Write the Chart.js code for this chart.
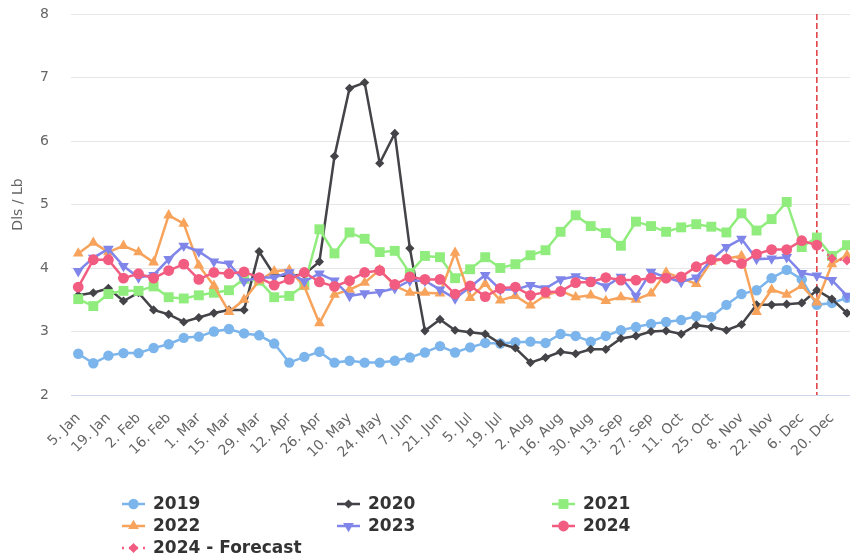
<!DOCTYPE html>
<html>
<head>
<meta charset="utf-8">
<script src="https://cdn.jsdelivr.net/npm/chart.js@4.4.1/dist/chart.umd.min.js"></script>
<style>
  html, body { margin: 0; padding: 0; background: #fff; }
  #wrap { width: 850px; height: 558px; position: relative; }
</style>
</head>
<body>
<div id="wrap"><canvas id="chart"></canvas></div>
<script>
// ---------------------------------------------
// Weekly price, Dls / Lb
// ---------------------------------------------
const weeks = [
  "5. Jan", "12. Jan", "19. Jan", "26. Jan", "2. Feb", "9. Feb", "16. Feb", "23. Feb",
  "1. Mar", "8. Mar", "15. Mar", "22. Mar", "29. Mar", "5. Apr", "12. Apr", "19. Apr",
  "26. Apr", "3. May", "10. May", "17. May", "24. May", "31. May", "7. Jun", "14. Jun",
  "21. Jun", "28. Jun", "5. Jul", "12. Jul", "19. Jul", "26. Jul", "2. Aug", "9. Aug",
  "16. Aug", "23. Aug", "30. Aug", "6. Sep", "13. Sep", "20. Sep", "27. Sep", "4. Oct",
  "11. Oct", "18. Oct", "25. Oct", "1. Nov", "8. Nov", "15. Nov", "22. Nov", "29. Nov",
  "6. Dec", "13. Dec", "20. Dec", "27. Dec"
];

const y2019 = [2.65, 2.50, 2.62, 2.66, 2.66, 2.74, 2.80, 2.90, 2.92, 3.00, 3.04, 2.97, 2.94,
  2.81, 2.51, 2.60, 2.68, 2.51, 2.54, 2.51, 2.51, 2.54, 2.59, 2.67, 2.77, 2.67, 2.75, 2.82,
  2.81, 2.83, 2.84, 2.82, 2.96, 2.93, 2.84, 2.93, 3.02, 3.07, 3.12, 3.15, 3.18, 3.24, 3.23,
  3.42, 3.59, 3.65, 3.84, 3.97, 3.82, 3.42, 3.45, 3.53];

const y2020 = [3.57, 3.61, 3.68, 3.48, 3.61, 3.34, 3.27, 3.15, 3.22, 3.29, 3.34, 3.34, 4.26,
  3.89, 3.87, 3.90, 4.10, 5.76, 6.83, 6.92, 5.65, 6.12, 4.31, 3.01, 3.19, 3.02, 2.99, 2.96,
  2.81, 2.74, 2.51, 2.59, 2.68, 2.65, 2.72, 2.72, 2.89, 2.93, 3.00, 3.01, 2.96, 3.10, 3.07,
  3.02, 3.11, 3.42, 3.42, 3.43, 3.45, 3.65, 3.51, 3.29];

const y2021 = [3.51, 3.40, 3.59, 3.64, 3.64, 3.71, 3.54, 3.52, 3.57, 3.61, 3.65, 3.83, 3.80,
  3.54, 3.56, 3.73, 4.61, 4.23, 4.56, 4.46, 4.25, 4.27, 3.92, 4.19, 4.17, 3.84, 3.98, 4.17,
  4.00, 4.06, 4.20, 4.28, 4.57, 4.83, 4.66, 4.55, 4.35, 4.73, 4.66, 4.57, 4.64, 4.69, 4.65,
  4.56, 4.86, 4.59, 4.77, 5.04, 4.33, 4.48, 4.19, 4.36];

const y2022 = [4.23, 4.40, 4.25, 4.35, 4.25, 4.09, 4.83, 4.70, 4.04, 3.72, 3.31, 3.50, 3.80,
  3.95, 3.97, 3.71, 3.13, 3.58, 3.66, 3.77, 3.97, 3.72, 3.61, 3.61, 3.60, 4.24, 3.53, 3.75,
  3.49, 3.56, 3.41, 3.57, 3.64, 3.54, 3.57, 3.48, 3.54, 3.50, 3.60, 3.93, 3.84, 3.75, 4.10,
  4.15, 4.19, 3.31, 3.66, 3.58, 3.72, 3.46, 4.06, 4.20];

const y2023 = [3.95, 4.16, 4.30, 4.03, 3.85, 3.89, 4.14, 4.35, 4.26, 4.10, 4.07, 3.79, 3.85,
  3.85, 3.93, 3.79, 3.91, 3.80, 3.56, 3.60, 3.62, 3.68, 3.80, 3.80, 3.66, 3.52, 3.70, 3.89,
  3.66, 3.66, 3.73, 3.68, 3.82, 3.87, 3.81, 3.71, 3.86, 3.56, 3.94, 3.85, 3.78, 3.85, 4.13,
  4.33, 4.46, 4.14, 4.15, 4.17, 3.92, 3.88, 3.81, 3.56];

const y2024 = [3.70, 4.13, 4.13, 3.84, 3.91, 3.84, 3.96, 4.06, 3.82, 3.93, 3.91, 3.94, 3.85,
  3.73, 3.82, 3.93, 3.78, 3.71, 3.80, 3.93, 3.96, 3.74, 3.86, 3.82, 3.82, 3.59, 3.72, 3.55,
  3.68, 3.70, 3.57, 3.62, 3.63, 3.77, 3.78, 3.85, 3.81, 3.81, 3.84, 3.84, 3.86, 4.02, 4.13,
  4.14, 4.07, 4.22, 4.29, 4.29, 4.43, 4.36];

// forecast begins at week index 49 (13. Dec)
const forecastStart = 49;
const y2024Forecast = [4.36, 4.15, 4.12];

const yTicks = [2, 3, 4, 5, 6, 7, 8];

// ---------------------------------------------
// Helpers
// ---------------------------------------------
const toPoints = (vals, start = 0) => vals.map((v, i) => ({ x: start + i, y: v }));

function series(label, vals, color, style, radius, extra = {}) {
  return Object.assign({
    label,
    data: toPoints(vals),
    borderColor: color,
    backgroundColor: color,
    pointBackgroundColor: color,
    pointBorderWidth: 0,
    pointStyle: style,
    pointRadius: radius,
    pointHoverRadius: radius,
    borderWidth: 2.5,
    tension: 0
  }, extra);
}

const datasets = [
  series('2019', y2019, '#7cb5ec', 'circle', 5.2, { order: 6 }),
  series('2020', y2020, '#434348', 'rectRot', 4.6, { order: 5 }),
  series('2021', y2021, '#90ed7d', 'rect', 7, { order: 4 }),
  series('2022', y2022, '#f7a35c', 'triangle', 6.2, { order: 3 }),
  series('2023', y2023, '#8085e9', 'triangle', 6.2, { order: 2, pointRotation: 180 }),
  series('2024', y2024, '#f15c80', 'circle', 5.4, { order: 1 }),
  series('2024 - Forecast', [], '#f15c80', 'rectRot', 5, {
    order: 0,
    data: toPoints(y2024Forecast, forecastStart),
    borderDash: [2, 5],
    pointRadius: [0, 5, 5]
  })
];

// vertical dashed line where the forecast begins
const forecastLine = {
  id: 'forecastLine',
  beforeDatasetsDraw(chart) {
    const { ctx, chartArea, scales } = chart;
    const px = scales.x.getPixelForValue(forecastStart);
    ctx.save();
    ctx.strokeStyle = '#e0393e';
    ctx.lineWidth = 1.5;
    ctx.setLineDash([6, 3]);
    ctx.beginPath();
    ctx.moveTo(px, chartArea.top);
    ctx.lineTo(px, chartArea.bottom);
    ctx.stroke();
    ctx.restore();
  }
};

// three-column legend under the axis
const gridLegend = {
  id: 'gridLegend',
  afterDraw(chart) {
    const ctx = chart.ctx;
    chart.data.datasets.forEach((ds, i) => {
      const x = 122 + (i % 3) * 215;
      const y = 504 + Math.floor(i / 3) * 22;
      ctx.save();
      ctx.strokeStyle = ds.borderColor;
      ctx.lineWidth = 2.5;
      ctx.setLineDash(ds.borderDash || []);
      ctx.beginPath();
      ctx.moveTo(x, y);
      ctx.lineTo(x + 23, y);
      ctx.stroke();
      ctx.setLineDash([]);
      ctx.fillStyle = ds.pointBackgroundColor;
      const r = Array.isArray(ds.pointRadius) ? 5 : ds.pointRadius;
      Chart.helpers.drawPoint(ctx, {
        pointStyle: ds.pointStyle,
        rotation: ds.pointRotation || 0,
        radius: r,
        borderWidth: 0
      }, x + 11.5, y);
      ctx.fillStyle = '#333333';
      ctx.font = 'bold 17px "DejaVu Sans"';
      ctx.textBaseline = 'middle';
      ctx.textAlign = 'left';
      ctx.fillText(ds.label, x + 31, y + 1);
      ctx.restore();
    });
  }
};

new Chart(document.getElementById('chart'), {
  type: 'line',
  data: { datasets },
  plugins: [forecastLine, gridLegend],
  options: {
    responsive: true,
    maintainAspectRatio: false,
    animation: false,
    layout: { autoPadding: false, padding: { top: 14, right: 0, bottom: 80, left: 0 } },
    plugins: {
      legend: { display: false },
      tooltip: { enabled: false }
    },
    scales: {
      x: {
        type: 'linear',
        bounds: 'data',
        min: -0.48,
        max: 51.2,
        afterBuildTicks: s => {
          s.ticks = weeks.map((_, i) => i).filter(i => i % 2 === 0).map(v => ({ value: v }));
        },
        grid: { display: false, drawTicks: false },
        border: { color: '#ccd6eb', width: 1 },
        ticks: {
          autoSkip: false,
          minRotation: 45,
          maxRotation: 45,
          padding: 15,
          color: '#666666',
          font: { family: 'DejaVu Sans', size: 14 },
          callback: v => weeks[v]
        },
        afterFit: s => {
          s.height = 83;
          s.paddingLeft = 0;
          s.paddingRight = 0;
        }
      },
      y: {
        min: yTicks[0],
        max: yTicks[yTicks.length - 1],
        afterBuildTicks: s => { s.ticks = yTicks.map(v => ({ value: v })); },
        grid: {
          color: c => (c.tick && c.tick.value === yTicks[0]) ? 'rgba(0,0,0,0)' : '#e6e6e6',
          drawTicks: false
        },
        border: { display: false },
        ticks: {
          padding: 22,
          color: '#666666',
          font: { family: 'DejaVu Sans', size: 14 }
        },
        title: {
          display: true,
          text: 'Dls / Lb',
          color: '#666666',
          font: { family: 'DejaVu Sans', size: 14 },
          padding: { top: 10, bottom: 0 }
        },
        afterFit: s => {
          s.width = 71;
          s.paddingTop = 0;
          s.paddingBottom = 0;
        }
      }
    }
  }
});
</script>
</body>
</html>
